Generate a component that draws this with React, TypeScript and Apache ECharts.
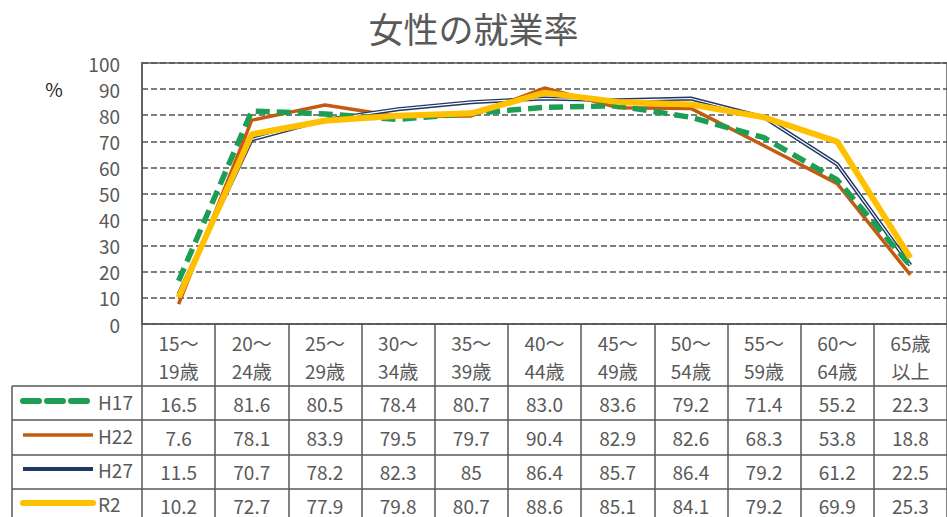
import React, { useEffect, useRef } from "react";
import * as echarts from "echarts";

const categories = [
  "15～\n19歳", "20～\n24歳", "25～\n29歳", "30～\n34歳", "35～\n39歳", "40～\n44歳",
  "45～\n49歳", "50～\n54歳", "55～\n59歳", "60～\n64歳", "65歳\n以上",
];
const seriesNames = ["H17", "H22", "H27", "R2"];
const h17 = [16.5, 81.6, 80.5, 78.4, 80.7, 83.0, 83.6, 79.2, 71.4, 55.2, 22.3];
const h22 = [7.6, 78.1, 83.9, 79.5, 79.7, 90.4, 82.9, 82.6, 68.3, 53.8, 18.8];
const h27 = [11.5, 70.7, 78.2, 82.3, 85, 86.4, 85.7, 86.4, 79.2, 61.2, 22.5];
const r2 = [10.2, 72.7, 77.9, 79.8, 80.7, 88.6, 85.1, 84.1, 79.2, 69.9, 25.3];
// how each table row prints its values
const rowFixed = [true, true, false, true];

const TEXT = "#595959";
const FONT = "'Noto Sans CJK JP', 'Noto Sans', sans-serif";
const GREEN = "#1E9E55";
const ORANGE = "#C55A11";
const NAVY = "#203864";
const YELLOW = "#FFC000";

export default function App() {
  const ref = useRef<HTMLDivElement>(null);
  useEffect(() => {
    if (!ref.current) return;
    const chart = echarts.init(ref.current, null, { renderer: "svg" });
    const rows = [h17, h22, h27, r2];
    const gridLeft = 142;
    const gridTop = 63;
    const gridHeight = 261;
    const gridWidth = 807.4;
    const axisY = gridTop + gridHeight;
    const rowCenters = [79, 113, 147, 181];
    const rowLines = [386, 420, 455, 489];

    const tableAxes = rows.map((vals, i) => ({
      type: "category",
      data: categories,
      gridIndex: 0,
      position: "bottom",
      offset: rowCenters[i],
      axisLine: { show: false },
      axisTick: { show: false },
      splitLine: { show: false },
      axisLabel: {
        interval: 0,
        margin: 0,
        verticalAlign: "middle",
        color: TEXT,
        fontSize: 19,
        fontFamily: FONT,
        formatter: (_v: string, idx: number) =>
          rowFixed[i] ? vals[idx].toFixed(1) : String(vals[idx]),
      },
    }));

    const graphics: any[] = [
      {
        type: "text",
        x: 54,
        y: 88,
        style: { text: "%", fill: "#222", fontSize: 19, fontFamily: FONT, textAlign: "center", textVerticalAlign: "middle" },
      },
      ...rowLines.map((y) => ({
        type: "line",
        shape: { x1: 12, y1: y, x2: 947, y2: y },
        style: { stroke: TEXT, lineWidth: 1.5 },
      })),
      {
        type: "line",
        shape: { x1: 12, y1: 386, x2: 12, y2: 517 },
        style: { stroke: TEXT, lineWidth: 1.5 },
      },
    ];

    const legendStyles: any[] = [
      { color: GREEN, width: 6, type: [16, 8], cap: "round" },
      { color: ORANGE, width: 3.5 },
      { color: NAVY, width: 4 },
      { color: YELLOW, width: 6, cap: "round" },
    ];

    chart.setOption({
      animation: false,
      backgroundColor: "#fff",
      title: {
        text: "女性の就業率",
        left: "center",
        top: 5,
        textStyle: { color: TEXT, fontSize: 35, fontWeight: "normal", fontFamily: FONT },
      },
      legend: {
        data: seriesNames.map((n, i) => ({ name: n, lineStyle: legendStyles[i] })),
        orient: "vertical",
        left: 20,
        top: axisY + rowCenters[0] - 12,
        height: 140,
        padding: 0,
        itemWidth: 70,
        itemHeight: 20,
        itemGap: 14,
        itemStyle: { opacity: 0 },
        textStyle: { color: TEXT, fontSize: 19, fontFamily: FONT, lineHeight: 20 },
      },
      grid: {
        left: gridLeft,
        top: gridTop,
        width: gridWidth,
        height: gridHeight,
        show: true,
        borderColor: TEXT,
        borderWidth: 1.5,
      },
      xAxis: [
        {
          type: "category",
          data: categories,
          boundaryGap: true,
          axisLine: { show: true, lineStyle: { color: TEXT, width: 1.5 } },
          axisTick: { show: true, interval: 0, length: 200, lineStyle: { color: TEXT, width: 1.5 } },
          axisLabel: {
            interval: 0,
            margin: 32,
            verticalAlign: "middle",
            lineHeight: 28,
            color: TEXT,
            fontSize: 19,
            fontFamily: FONT,
          },
        },
        ...tableAxes,
      ],
      yAxis: {
        type: "value",
        min: 0,
        max: 100,
        interval: 10,
        axisLine: { show: true, lineStyle: { color: TEXT, width: 1.5 } },
        axisTick: { show: false },
        axisLabel: { margin: 22, color: TEXT, fontSize: 19, fontFamily: FONT },
        splitLine: { show: true, lineStyle: { color: "#555", width: 1.5, type: [6, 3] } },
      },
      series: [
        {
          name: "H22",
          type: "line",
          data: h22,
          symbol: "none",
          lineStyle: { color: ORANGE, width: 3.5 },
          itemStyle: { color: ORANGE },
          z: 2,
        },
        {
          name: "H27",
          type: "line",
          data: h27,
          symbol: "none",
          lineStyle: { color: NAVY, width: 4 },
          itemStyle: { color: NAVY },
          z: 3,
        },
        {
          name: "H27 inner",
          type: "line",
          data: h27,
          symbol: "none",
          silent: true,
          lineStyle: { color: "#ffffff", width: 1.2 },
          z: 4,
        },
        {
          name: "H17",
          type: "line",
          data: h17,
          symbol: "none",
          lineStyle: { color: GREEN, width: 5.5, type: [14, 7] },
          itemStyle: { color: GREEN },
          z: 5,
        },
        {
          name: "R2",
          type: "line",
          data: r2,
          symbol: "none",
          lineStyle: { color: YELLOW, width: 6 },
          itemStyle: { color: YELLOW },
          z: 6,
        },
      ],
      graphic: graphics,
    });
    return () => chart.dispose();
  }, []);
  return (
    <div
      ref={ref}
      style={{ position: "absolute", left: 0, top: 0, width: 947, height: 517 }}
    />
  );
}
